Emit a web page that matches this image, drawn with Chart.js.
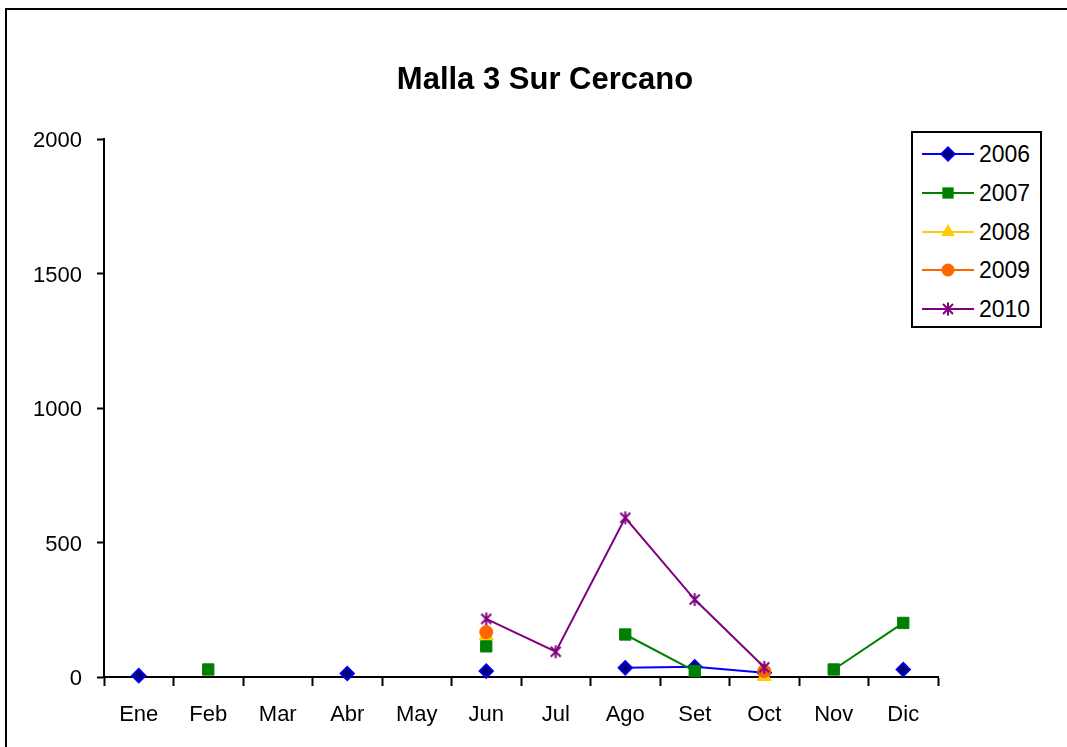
<!DOCTYPE html>
<html lang="es">
<head>
<meta charset="utf-8">
<title>Malla 3 Sur Cercano</title>
<script src="https://cdn.jsdelivr.net/npm/chart.js@4.4.0/dist/chart.umd.min.js"></script>
<style>
    html, body { margin: 0; padding: 0; background: #fff; overflow: hidden; }
    #wrap { position: relative; width: 1067px; height: 747px; }
    #frame { position: absolute; left: 5px; top: 8px; width: 1200px; height: 900px; border: 2px solid #000; }
    #chart { position: absolute; left: 0; top: 0; }
    #legend {
        position: absolute; left: 911px; top: 131px; width: 127px; height: 193px;
        border: 2px solid #000; background: #fff;
        font-family: 'Liberation Sans', Arial, sans-serif; font-size: 23px; color: #000;
    }
    .row { position: absolute; left: 9px; height: 24px; display: flex; align-items: center; }
    .row svg { display: block; }
    .row span { margin-left: 5px; line-height: 24px; }
</style>
</head>
<body>
<div id="wrap">
    <div id="frame"></div>
    <canvas id="chart" width="1067" height="747"></canvas>
    <div id="legend"></div>
</div>
<script>
(function() {
    'use strict';

    // Data
    const titleText = 'Malla 3 Sur Cercano';
    const months = ['Ene', 'Feb', 'Mar', 'Abr', 'May', 'Jun', 'Jul', 'Ago', 'Set', 'Oct', 'Nov', 'Dic'];
    const years = ['2006', '2007', '2008', '2009', '2010'];
    const y2006 = [5, null, null, 13, null, 22, null, 34, 38, 16, null, 28];
    const y2007 = [null, 28, null, null, null, 114, null, 158, 22, null, 28, 201];
    const y2008 = [null, null, null, null, null, 154, null, null, null, 2, null, null];
    const y2009 = [null, null, null, null, null, 167, null, null, null, 22, null, null];
    const y2010 = [null, null, null, null, null, 216, 94, 592, 288, 36, null, null];
    const yTicks = [0, 500, 1000, 1500, 2000];

    const FONT = "'Liberation Sans', Arial, sans-serif";

    // Series look: line colour, marker fill, marker border, marker shape, radius
    const styles = [
        { line: '#0000FF', fill: '#000080', stroke: '#0000FF', shape: 'rectRot', r: 7 },
        { line: '#008000', fill: '#008000', stroke: '#008000', shape: 'rect', r: 8 },
        { line: '#FFCC00', fill: '#FFCC00', stroke: '#FFCC00', shape: 'triangle', r: 8 },
        { line: '#FF6600', fill: '#FF6600', stroke: '#FF6600', shape: 'circle', r: 6.5 },
        { line: '#800080', fill: '#800080', stroke: '#800080', shape: 'asterisk', r: 7 }
    ];
    const series = [y2006, y2007, y2008, y2009, y2010];

    // Excel-like star marker: an X crossed by a vertical stroke
    function asteriskCanvas(color) {
        const c = document.createElement('canvas');
        c.width = 15; c.height = 15;
        const g = c.getContext('2d');
        g.strokeStyle = color;
        g.lineWidth = 2;
        g.beginPath();
        g.moveTo(2.5, 2.5); g.lineTo(12.5, 12.5);
        g.moveTo(12.5, 2.5); g.lineTo(2.5, 12.5);
        g.moveTo(7.5, 1); g.lineTo(7.5, 14);
        g.stroke();
        return c;
    }

    const datasets = series.map((data, i) => {
        const s = styles[i];
        return {
            label: years[i],
            data: data,
            borderColor: s.line,
            borderWidth: 2,
            backgroundColor: s.fill,
            pointBackgroundColor: s.fill,
            pointBorderColor: s.stroke,
            pointBorderWidth: i === 0 ? 1.5 : 1,
            pointStyle: s.shape === 'asterisk' ? asteriskCanvas(s.line) : s.shape,
            pointRadius: s.r,
            tension: 0,
            spanGaps: false,
            clip: false,
            order: years.length - i
        };
    });

    // Title drawn centred over the whole chart frame
    const titlePlugin = {
        id: 'chartTitle',
        afterDraw(chart) {
            const ctx = chart.ctx;
            ctx.save();
            ctx.font = 'bold 31px ' + FONT;
            ctx.fillStyle = '#000';
            ctx.textAlign = 'center';
            ctx.textBaseline = 'alphabetic';
            ctx.fillText(titleText, 545, 89);
            ctx.restore();
        }
    };

    Chart.defaults.font.family = FONT;
    Chart.defaults.font.size = 22;
    Chart.defaults.color = '#000';

    new Chart(document.getElementById('chart').getContext('2d'), {
        type: 'line',
        data: { labels: months, datasets: datasets },
        plugins: [titlePlugin],
        options: {
            responsive: false,
            animation: false,
            events: [],
            layout: { padding: { left: 0, top: 139, right: 129, bottom: 0 } },
            plugins: {
                legend: { display: false },
                tooltip: { enabled: false },
                title: { display: false }
            },
            scales: {
                x: {
                    offset: true,
                    afterFit: function(scale) { scale.height = 70; },
                    grid: {
                        offset: true,
                        drawOnChartArea: false,
                        drawTicks: true,
                        tickLength: 9,
                        tickWidth: 2,
                        tickColor: '#000'
                    },
                    border: { display: true, color: '#000', width: 2 },
                    ticks: { padding: 16, maxRotation: 0, autoSkip: false, color: '#000' }
                },
                y: {
                    min: yTicks[0],
                    max: yTicks[yTicks.length - 1],
                    afterFit: function(scale) { scale.width = 104; },
                    afterBuildTicks: function(scale) {
                        scale.ticks = yTicks.map(v => ({ value: v }));
                    },
                    grid: {
                        drawOnChartArea: false,
                        drawTicks: true,
                        tickLength: 7,
                        tickWidth: 2,
                        tickColor: '#000'
                    },
                    border: { display: true, color: '#000', width: 2 },
                    ticks: {
                        padding: 15,
                        labelOffset: 2,
                        color: '#000',
                        callback: function(value) { return String(value); }
                    }
                }
            }
        }
    });

    // Legend markers as inline SVG
    function markerSvg(s) {
        const cx = 26, cy = 12;
        let m = '';
        if (s.shape === 'rectRot') {
            const r = s.r;
            m = `<polygon points="${cx},${cy - r} ${cx + r},${cy} ${cx},${cy + r} ${cx - r},${cy}" fill="${s.fill}" stroke="${s.stroke}" stroke-width="1.5"/>`;
        } else if (s.shape === 'rect') {
            const h = s.r * Math.SQRT1_2;
            m = `<rect x="${cx - h}" y="${cy - h}" width="${2 * h}" height="${2 * h}" fill="${s.fill}"/>`;
        } else if (s.shape === 'triangle') {
            const r = s.r;
            const dx = r * Math.sin(Math.PI / 3), dy = r * 0.5;
            m = `<polygon points="${cx},${cy - r} ${cx + dx},${cy + dy} ${cx - dx},${cy + dy}" fill="${s.fill}"/>`;
        } else if (s.shape === 'circle') {
            m = `<circle cx="${cx}" cy="${cy}" r="${s.r}" fill="${s.fill}"/>`;
        } else {
            m = `<path d="M${cx - 5},${cy - 5}L${cx + 5},${cy + 5}M${cx + 5},${cy - 5}L${cx - 5},${cy + 5}M${cx},${cy - 6.5}L${cx},${cy + 6.5}" stroke="${s.line}" stroke-width="2"/>`;
        }
        return `<svg width="52" height="24" viewBox="0 0 52 24">` +
            `<line x1="0" y1="${cy}" x2="52" y2="${cy}" stroke="${s.line}" stroke-width="2"/>${m}</svg>`;
    }

    const legend = document.getElementById('legend');
    legend.innerHTML = years.map((yr, i) => {
        const top = 9 + i * 38.75;
        return `<div class="row" style="top:${top}px">${markerSvg(styles[i])}<span>${yr}</span></div>`;
    }).join('');
})();
</script>
</body>
</html>
